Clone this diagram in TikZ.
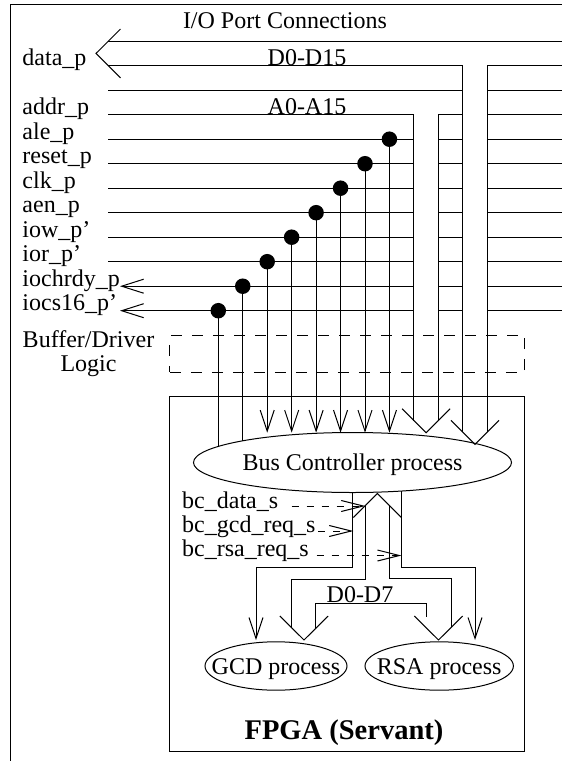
\documentclass[tikz,border=0pt]{standalone}
\usepackage{fontspec}
\setmainfont{Liberation Serif}
\usetikzlibrary{arrows.meta,shapes.geometric}
\begin{document}
\begin{tikzpicture}[x=1pt,y=-1pt,line width=1pt,
  lbl/.style={anchor=base west,inner sep=0pt,font=\fontsize{24}{24}\selectfont},
  txt/.style={anchor=base,inner sep=0pt,font=\fontsize{24}{24}\selectfont},
  tipv/.style={-{Straight Barb[length=21pt,width=14pt]}},
  tipl/.style={{Straight Barb[length=22pt,width=14pt]}-},
  proc/.style={ellipse,draw,inner sep=0pt},
  sig/.style={dash pattern=on 7pt off 8pt,-{Straight Barb[length=22pt,width=11pt]}},
  dotc/.style={circle,fill,inner sep=0pt,minimum size=15.5pt}]
\useasboundingbox (0,0) rectangle (562,761);
% frame
\draw (10,761) -- (10,4) -- (562,4);
\node[txt] (title) at (285,28.3) {I/O Port Connections};
% process ellipses
\node[proc,minimum width=318pt,minimum height=60pt] (bc) at (352.5,462.5) {};
\node[txt] (bct) at (352.5,470) {Bus Controller process};
\node[proc,minimum width=142pt,minimum height=48.4pt] (gcd) at (276,666) {};
\node[txt] (gcdt) at (276,674.5) {GCD process};
\node[proc,minimum width=148.4pt,minimum height=48.4pt] (rsa) at (439.2,666) {};
\node[txt] (rsat) at (439.2,674.5) {RSA process};
% FPGA box and buffer box
\node[draw,inner sep=0pt,minimum width=355pt,minimum height=354.5pt,anchor=north west] (fpga) at (169,396) {};
\node[anchor=base,inner sep=0pt,font=\fontsize{28.5}{28.5}\selectfont\bfseries] (fpgat) at (344,739) {FPGA (Servant)};
\node[draw,dash pattern=on 11pt off 10pt,inner sep=0pt,minimum width=355pt,minimum height=36.7pt,anchor=north west] (buf) at (169.3,335) {};
\node[txt] (buft1) at (88.5,347) {Buffer/Driver};
\node[txt] (buft2) at (88.5,371.7) {Logic};
% data bus with chevron
\draw (120.5,29) -- (96,53.45) -- (120.5,77.9);
\draw (108.25,41.2) -- (562,41.2);
\draw (108.25,65.7) -- (462.8,65.7) -- (462.8,432.1);
\draw (487.25,65.7) -- (487.25,432.1);
\draw (108,90.2) -- (462.8,90.2);
\foreach \k in {1,...,11} \draw (487.25,{41.2+24.5*\k}) -- (562,{41.2+24.5*\k});
\foreach \k in {3,...,11} \draw (438.35,{41.2+24.5*\k}) -- (462.8,{41.2+24.5*\k});
\foreach \k in {3,...,9} \draw (108,{41.2+24.5*\k}) -- (413.9,{41.2+24.5*\k});
\draw[tipl] (120,286.2) -- (413.9,286.2);
\draw[tipl] (120,310.7) -- (413.9,310.7);
\draw (413.9,114.7) -- (413.9,420.5);
\draw (438.35,114.7) -- (438.35,420.5);
\draw (402.1,408.7) -- (426.1,432.7) -- (450.1,408.7);
\draw (451,420.3) -- (475,444.3) -- (499,420.3);
% port labels
\node[lbl] (ldata) at (22,65.7) {data\_p};
\node[txt] (ldbus) at (307,65) {D0-D15};
\node[txt] (labus) at (307,114) {A0-A15};
\node[lbl] (laddr) at (22,114.7) {addr\_p};
\node[lbl] (lale) at (22,139.2) {ale\_p};
\node[lbl] (lreset) at (22,163.7) {reset\_p};
\node[lbl] (lclk) at (22,188.2) {clk\_p};
\node[lbl] (laen) at (22,212.7) {aen\_p};
\node[lbl] (liow) at (22,237.2) {iow\_p'};
\node[lbl] (lior) at (22,261.7) {ior\_p'};
\node[lbl] (lrdy) at (22,286.2) {iochrdy\_p};
\node[lbl] (lcs) at (22,310.7) {iocs16\_p'};
% control lines with dots
\foreach \j in {0,...,7} \coordinate (d\j) at ({218.3+24.45*\j},{41.2+24.5*(11-\j)});
\draw (d0) -- (218.3,446.4);
\draw (d1) -- (242.75,440.8);
\foreach \j in {2,...,7} \draw[tipv] (d\j) -- ({218.3+24.45*\j},432.7);
\foreach \j in {0,...,7} \node[dotc] at (d\j) {};
% internal signals
\node[lbl] (sdata) at (181.7,508) {bc\_data\_s};
\node[lbl] (sgcd) at (181.7,532.5) {bc\_gcd\_req\_s};
\node[lbl] (srsa) at (181.7,556) {bc\_rsa\_req\_s};
\draw[sig] (291.7,506) -- (365.3,506);
\draw[sig] (318,531) -- (353.3,531);
\draw[sig] (316.7,555.5) -- (401.5,555.5);
% lines to GCD / RSA
\draw[tipv] (bc.south) -- (352.5,567) -- (256,567) -- (256,640);
\draw (353.3,517.5) -- (377.3,493.5) -- (401.3,517.5);
\draw (365.3,505.5) -- (365.3,579) -- (291.7,579) -- (291.7,628.4);
\draw (389.3,505.5) -- (389.3,578.5) -- (451,578.5) -- (451,626.8);
\draw[tipv] (401.5,491) -- (401.5,567.3) -- (475,567.3) -- (475,640);
\draw (279.8,616) -- (304,640) -- (328.2,616);
\draw (315.7,628.5) -- (315.7,603.3) -- (426.3,603.3) -- (426.3,617);
\draw (414.3,616) -- (438.5,640) -- (462.7,616);
\node[txt] (d07) at (360,602.5) {D0-D7};
\end{tikzpicture}
\end{document}
